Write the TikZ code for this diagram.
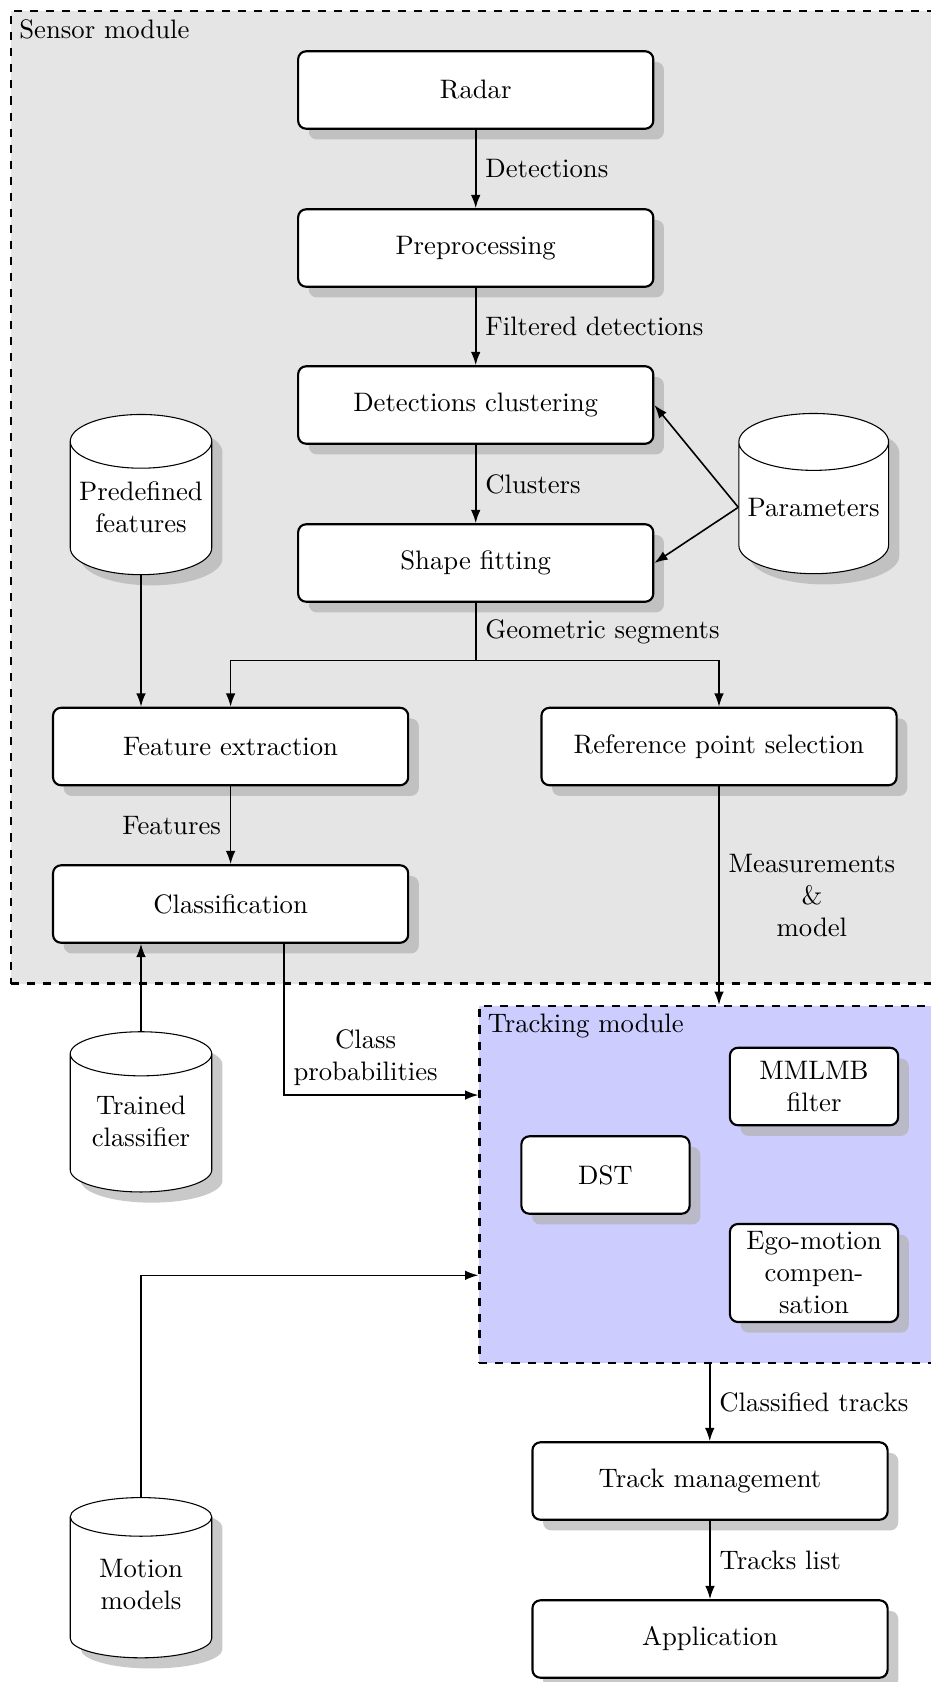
\documentclass[tikz,border=0pt]{standalone}
\usetikzlibrary{shapes.geometric,shadows,arrows.meta,calc}
% text of a data store, lifted a little towards the top cap
\newcommand\dbtext[1]{\raisebox{1.8pt}[\height][\depth]{\begin{tabular}{@{}c@{}}#1\end{tabular}}}
\begin{document}
\begin{tikzpicture}[x=0.3745pt,y=-0.3745pt,
  shade/.style={drop shadow={shadow xshift=4pt,shadow yshift=-4pt,fill=black!30,opacity=0.7}},
  box/.style={draw,thick,rounded corners=3pt,fill=white,minimum width=133pt,minimum height=29pt,align=center,shade},
  smallbox/.style={box,minimum width=63pt,inner sep=1.5pt},
  db/.style={cylinder,shape border rotate=90,aspect=0.38,draw,fill=white,minimum width=53pt,minimum height=60pt,shade},
  module/.style={draw,thick,dashed,inner sep=0pt},
  flow/.style={semithick,-{Latex[length=5pt,width=3.6pt]}}]
\useasboundingbox (0,0) rectangle (931,1682);

% module frames
\node[module,fill=black!10,minimum width=347.9pt,minimum height=364.2pt] (sensor) at (475.5,497.3) {};
\node[anchor=north west] (sensorlbl) at (sensor.north west) {Sensor module};
\node[module,fill=blue!20,minimum width=172.5pt,minimum height=133.7pt] (track) at (709.75,1184.5) {};
\node[anchor=north west] (tracklbl) at (track.north west) {Tracking module};

% processing chain
\node[box] (radar) at (475.7,90) {Radar};
\node[box] (prep) at (475.7,248) {Preprocessing};
\node[box] (clust) at (475.7,405) {Detections clustering};
\node[box] (shape) at (475.7,563) {Shape fitting};
\node[box] (feat) at (230.6,746.5) {Feature extraction};
\node[box] (ref) at (719,746.5) {Reference point selection};
\node[box] (cls) at (230.6,904) {Classification};

% data stores
\node[db] (predef) at (141,514.8) {\dbtext{Predefined\\features}};
\node[db] (params) at (813.7,514.8) {\dbtext{Parameters}};
\node[db] (trained) at (141,1128.5) {\dbtext{Trained\\classifier}};
\node[db] (motion) at (141,1592.3) {\dbtext{Motion\\models}};

% tracking internals
\node[smallbox] (mmlmb) at (814,1086.5) {MMLMB\\filter};
\node[smallbox] (dst) at (605.5,1175) {DST};
\node[smallbox,minimum height=36.7pt] (ego) at (814,1273) {Ego-motion\\compen-\\sation};

% output stages
\node[box] (tm) at (710,1481) {Track management};
\node[box] (app) at (710,1639) {Application};

% connectors
\draw[flow] (radar) -- node[right] {Detections} (prep);
\draw[flow] (prep) -- node[right] {Filtered detections} (clust);
\draw[flow] (clust) -- node[right] {Clusters} (shape);
\draw[flow] ([yshift=2.8pt]params.west) -- (clust.east);
\draw[flow] ([yshift=2.8pt]params.west) -- (shape.east);
\coordinate (split) at ($(shape.south)+(0,57.7)$);
\draw[semithick] (shape.south) -- node[right] {Geometric segments} (split);
\draw[flow] (split) -| (feat.north);
\draw[flow] (split) -| (ref.north);
\draw[flow] (predef.south) -- (predef.south |- feat.north);
\draw[flow] (feat) -- node[left] {Features} (cls);
\draw[flow] (ref.south) -- node[right,align=center] {Measurements\\\&\\model} (ref.south |- track.north);
\draw[flow] (trained.north) -- (trained.north |- cls.south);
\draw[flow] ([xshift=20pt]cls.south) |- node[pos=0.71,above,align=center] {Class\\probabilities} ([yshift=33.5pt]track.west);
\draw[flow] (motion.north) |- ([yshift=-34pt]track.west);
\draw[flow] (track.south) -- node[right] {Classified tracks} (track.south |- tm.north);
\draw[flow] (tm) -- node[right] {Tracks list} (app);
\end{tikzpicture}
\end{document}
